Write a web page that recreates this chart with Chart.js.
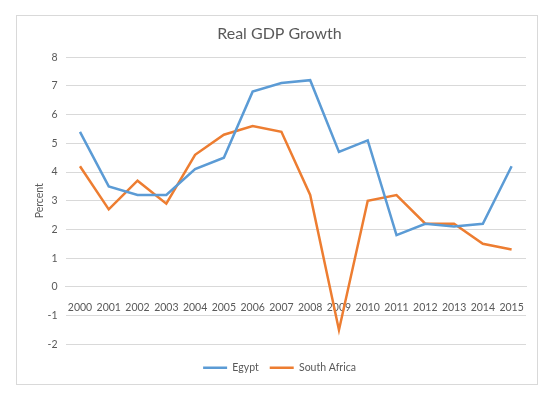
<!DOCTYPE html>
<html>
<head>
<meta charset="utf-8">
<script src="https://cdn.jsdelivr.net/npm/chart.js@4"></script>
<style>
  body { margin: 0; background: #fff; }
  #frame { position: absolute; left: 16px; top: 15px; width: 520px; height: 368px; border: 1px solid #d9d9d9; }
  #wrap { position: absolute; left: 0; top: 0; width: 555px; height: 399px; }
</style>
</head>
<body>
<div id="frame"></div>
<div id="wrap"><canvas id="gdpChart" width="555" height="399"></canvas></div>
<script>
// Real GDP growth, Egypt vs South Africa

const years = ["2000", "2001", "2002", "2003", "2004", "2005", "2006", "2007",
  "2008", "2009", "2010", "2011", "2012", "2013", "2014", "2015"];
const egypt = [5.4, 3.5, 3.2, 3.2, 4.1, 4.5, 6.8, 7.1, 7.2, 4.7, 5.1, 1.8, 2.2, 2.1, 2.2, 4.2];
const southAfrica = [4.2, 2.7, 3.7, 2.9, 4.6, 5.3, 5.6, 5.4, 3.2, -1.5, 3.0, 3.2, 2.2, 2.2, 1.5, 1.3];

const textColor = "#595959";
const gridColor = "#d9d9d9";
const font = "Lato, 'Open Sans', sans-serif";

Chart.defaults.font.family = font;
Chart.defaults.color = textColor;

new Chart(document.getElementById("gdpChart").getContext("2d"), {
  type: "line",
  data: {
    labels: years,
    datasets: [
      { label: "Egypt", data: egypt, borderColor: "#5b9bd5", backgroundColor: "#5b9bd5",
        borderWidth: 2.5, pointRadius: 0, tension: 0 },
      { label: "South Africa", data: southAfrica, borderColor: "#ed7d31", backgroundColor: "#ed7d31",
        borderWidth: 2.5, pointRadius: 0, tension: 0 }
    ]
  },
  options: {
    responsive: false,
    animation: false,
    layout: { padding: { left: 33, right: 29, top: 20, bottom: 16 } },
    plugins: {
      title: {
        display: true,
        text: "Real GDP Growth",
        color: textColor,
        font: { size: 16, weight: "normal" },
        padding: { top: 4, bottom: 14 }
      },
      legend: {
        position: "bottom",
        title: { display: true, text: "", font: { size: 1 }, padding: { top: 3, bottom: 3 } },
        labels: {
          usePointStyle: true,
          pointStyle: "line",
          pointStyleWidth: 24,
          boxHeight: 6,
          color: textColor,
          font: { size: 10.5 },
          padding: 11
        }
      },
      tooltip: { enabled: false }
    },
    scales: {
      x: {
        position: { y: 0 },
        offset: true,
        grid: { display: false },
        border: { color: gridColor },
        ticks: { color: textColor, font: { size: 10.5 }, maxRotation: 0, padding: 6 }
      },
      y: {
        min: -2,
        max: 8,
        ticks: { stepSize: 1, color: textColor, font: { size: 10.5 }, padding: 8 },
        grid: { color: gridColor, drawTicks: false },
        border: { display: false },
        title: { display: true, text: "Percent", color: textColor, font: { size: 10.5 }, padding: { top: 0, bottom: -6 } }
      }
    }
  }
});
</script>
</body>
</html>
